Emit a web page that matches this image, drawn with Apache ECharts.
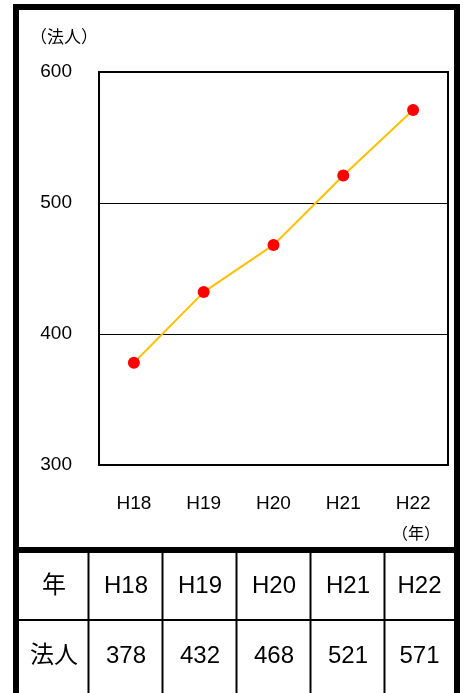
<!DOCTYPE html>
<html>
<head>
<meta charset="utf-8">
<script src="https://cdn.jsdelivr.net/npm/echarts@6/dist/echarts.min.js"></script>
<style>
  html, body { margin: 0; padding: 0; background: #fff; }
  #main { width: 465px; height: 693px; }
</style>
</head>
<body>
<div id="main"></div>
<script>
var years = ['H18', 'H19', 'H20', 'H21', 'H22'];
var corps = [378, 432, 468, 521, 571];
var yTicks = [300, 400, 500, 600];
var rowHeads = ['年', '法人'];

var FONT = '"Liberation Sans", "Noto Sans CJK JP", sans-serif';

// 表の線と文字
var colX = [19, 89, 163, 237, 311, 385, 454];
var graphics = [];

// 外枠
graphics.push({ type: 'rect', shape: { x: 16, y: 7, width: 441, height: 700 },
  style: { fill: null, stroke: '#000', lineWidth: 6 } });
// 図と表の区切り
graphics.push({ type: 'rect', shape: { x: 16, y: 547, width: 441, height: 6 },
  style: { fill: '#000' } });
for (var i = 1; i < colX.length - 1; i++) {
  graphics.push({ type: 'line', shape: { x1: colX[i] - 0.5, y1: 553, x2: colX[i] - 0.5, y2: 700 },
    style: { stroke: '#000', lineWidth: 2 } });
}
graphics.push({ type: 'line', shape: { x1: 19, y1: 620, x2: 454, y2: 620 },
  style: { stroke: '#000', lineWidth: 2 } });

function cellText(txt, col, row) {
  graphics.push({
    type: 'text',
    x: (colX[col] + colX[col + 1]) / 2,
    y: row === 0 ? 586 : 656,
    style: { text: txt, font: '24px ' + FONT, fill: '#000', align: 'center', verticalAlign: 'middle' }
  });
}
cellText(rowHeads[0], 0, 0);
cellText(rowHeads[1], 0, 1);
years.forEach(function (y, k) { cellText(y, k + 1, 0); });
corps.forEach(function (v, k) { cellText(String(v), k + 1, 1); });

// 軸名
graphics.push({ type: 'text', x: 30, y: 38,
  style: { text: '（法人）', font: '17px ' + FONT, fill: '#000', align: 'left', verticalAlign: 'middle' } });
graphics.push({ type: 'text', x: 416, y: 535,
  style: { text: '（年）', font: '16px ' + FONT, fill: '#000', align: 'center', verticalAlign: 'middle' } });

var option = {
  animation: false,
  backgroundColor: '#fff',
  grid: {
    left: 99, top: 72, width: 349, height: 393,
    show: true, borderColor: '#000', borderWidth: 2
  },
  xAxis: {
    type: 'category',
    data: years,
    boundaryGap: true,
    axisLine: { lineStyle: { color: '#000', width: 2 } },
    axisTick: { inside: true, length: 5, lineStyle: { color: '#666', width: 1 } },
    axisLabel: { color: '#000', fontSize: 19, fontFamily: FONT, margin: 29 }
  },
  yAxis: {
    type: 'value',
    min: yTicks[0],
    max: yTicks[yTicks.length - 1],
    interval: 100,
    axisLine: { show: true, lineStyle: { color: '#000', width: 2 } },
    axisTick: { show: false },
    axisLabel: { color: '#000', fontSize: 19, fontFamily: FONT, margin: 27 },
    splitLine: { lineStyle: { color: '#000', width: 1 } }
  },
  series: [{
    type: 'line',
    data: corps,
    symbol: 'circle',
    symbolSize: 12,
    itemStyle: { color: '#FF0000' },
    lineStyle: { color: '#FFC000', width: 2 }
  }],
  graphic: graphics
};

var chart = echarts.init(document.getElementById('main'));
chart.setOption(option);
</script>
</body>
</html>
